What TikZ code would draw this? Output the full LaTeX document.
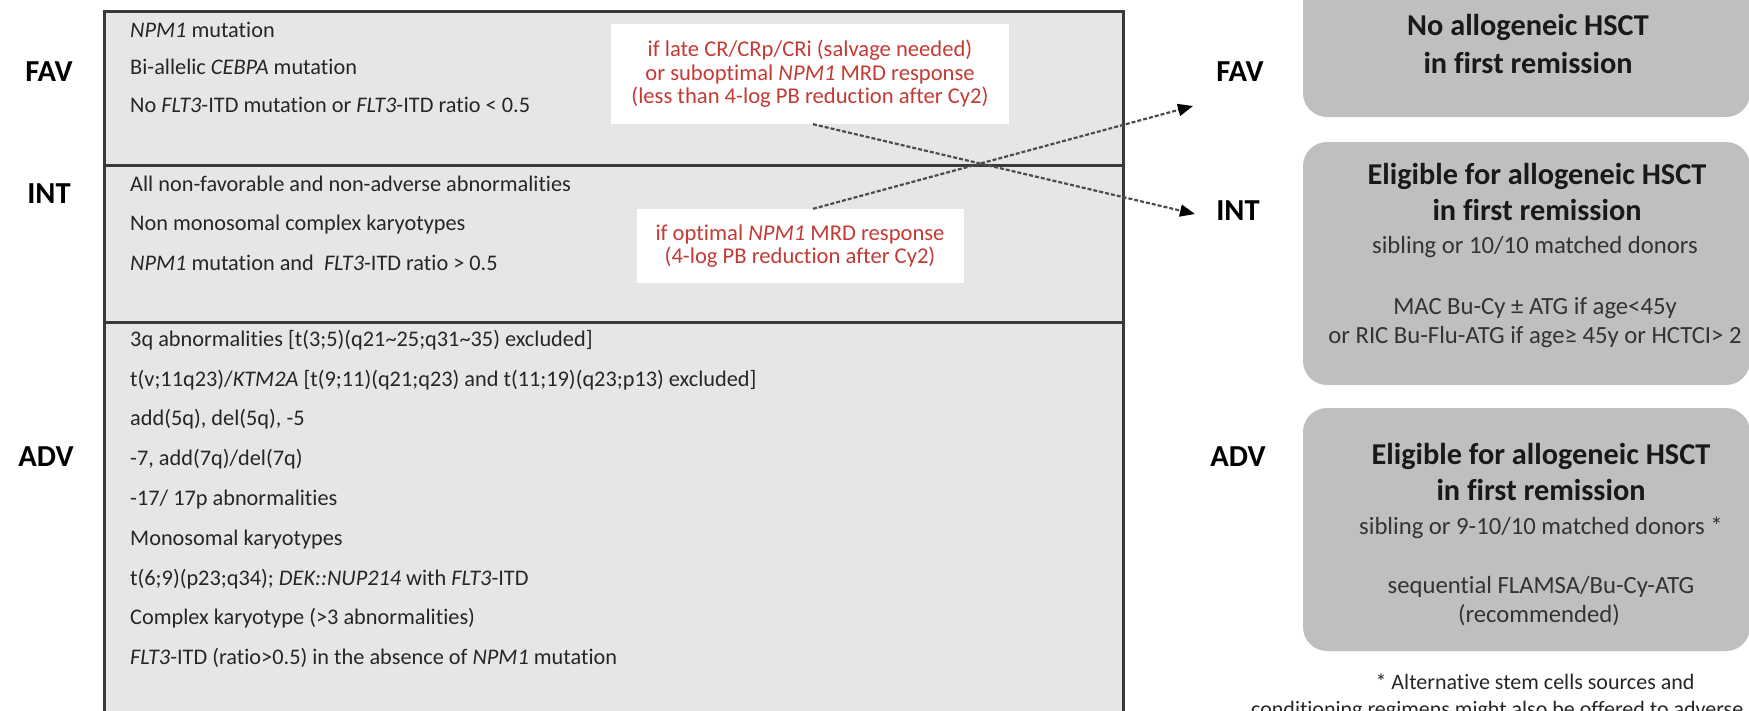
\documentclass[tikz,border=0pt]{standalone}
\usepackage{fontspec}
\setmainfont{Carlito}[Ligatures=NoCommon]
\usetikzlibrary{arrows.meta,positioning}

\definecolor{rowgray}{RGB}{230,230,230}
\definecolor{allogray}{RGB}{191,191,191}
\definecolor{edgegray}{RGB}{58,58,58}
\definecolor{mrdred}{RGB}{196,58,52}

\tikzset{
  riskrow/.style={draw=edgegray, line width=2.5pt, fill=rowgray, anchor=north west, inner sep=0pt, minimum width=1019pt},
  rowtext/.style={anchor=mid west, inner sep=0pt, text=black!85, font=\fontsize{22.3}{26}\selectfont},
  risklabel/.style={anchor=mid, inner sep=0pt, font=\fontsize{30.5}{36}\selectfont\bfseries},
  mrdbox/.style={fill=white, inner sep=0pt, align=center, text=mrdred, font=\fontsize{22.6}{23.5}\selectfont},
  allobox/.style={fill=allogray, rounded corners=24pt, minimum width=447pt, inner sep=0pt},
  allohead/.style={anchor=mid, inner sep=0pt, text=black!90, font=\fontsize{30.3}{36}\selectfont\bfseries},
  allonote/.style={anchor=mid, inner sep=0pt, text=black!80, font=\fontsize{24.7}{29}\selectfont},
  mrdarrow/.style={draw=black!70, line width=2.2pt, dash pattern=on 4pt off 2pt, -{Triangle[length=15pt,width=12pt,color=black]}}
}

\begin{document}
\begin{tikzpicture}[x=1pt, y=-1pt]

    \newcommand*{\xMin}{0}%
    \newcommand*{\xMax}{1749}%
    \newcommand*{\yMin}{0}%
    \newcommand*{\yMax}{710}%
    \def\rowL {103};
    \def\rowT {10};
    \def\rowFI {164};
    \def\rowIA {321};
    \def\rowB {740};
    \def\txtx {130};

    \useasboundingbox (\xMin,\yMin) rectangle (\xMax,\yMax);
    \clip (\xMin,\yMin) rectangle (\xMax,\yMax);

    % left table
    \pgfmathsetmacro\hfav{\rowFI-\rowT}
    \pgfmathsetmacro\hint{\rowIA-\rowFI}
    \pgfmathsetmacro\hadv{\rowB-\rowIA}
    \node[riskrow, minimum height=\hfav pt] (favrow) at (\rowL,\rowT) {};
    \node[riskrow, minimum height=\hint pt] (introw) at (\rowL,\rowFI) {};
    \node[riskrow, minimum height=\hadv pt] (advrow) at (\rowL,\rowIA) {};

    \node[risklabel] (favL) at (49,79) {FAV};
    \node[risklabel] (intL) at (49,201) {INT};
    \node[risklabel] (advL) at (46,464) {ADV};

    \foreach \txt [count=\k from 0] in {{\textit{NPM1} mutation},
      {Bi-allelic \textit{CEBPA} mutation},
      {No \textit{FLT3}-ITD mutation or \textit{FLT3}-ITD ratio < 0.5}} {
      \node[rowtext] (fav\k) at (\txtx, 35+37.5*\k) {\txt};
    }
    \foreach \txt [count=\k from 0] in {{All non-favorable and non-adverse abnormalities},
      {Non monosomal complex karyotypes},
      {\textit{NPM1} mutation and \ \textit{FLT3}-ITD ratio > 0.5}} {
      \node[rowtext] (int\k) at (\txtx, 189+39.5*\k) {\txt};
    }
    \foreach \txt [count=\k from 0] in {{3q abnormalities [t(3;5)(q21\textasciitilde 25;q31\textasciitilde 35) excluded]},
      {t(v;11q23)/\textit{KTM2A} [t(9;11)(q21;q23) and t(11;19)(q23;p13) excluded]},
      {add(5q), del(5q), -5},
      {-7, add(7q)/del(7q)},
      {-17/ 17p abnormalities},
      {Monosomal karyotypes},
      {t(6;9)(p23;q34); \textit{DEK::NUP214} with \textit{FLT3}-ITD},
      {Complex karyotype (>3 abnormalities)},
      {\textit{FLT3}-ITD (ratio>0.5) in the absence of \textit{NPM1} mutation}} {
      \node[rowtext] (adv\k) at (\txtx, 344+39.8*\k) {\txt};
    }

    % MRD boxes
    \node[mrdbox, minimum width=398pt, minimum height=100pt] (lateCR) at (810,74)
      {if late CR/CRp/CRi (salvage needed)\\or suboptimal \textit{NPM1} MRD response\\(less than 4-log PB reduction after Cy2)};
    \node[mrdbox, minimum width=327pt, minimum height=74pt] (optMRD) at (800,246)
      {if optimal \textit{NPM1} MRD response\\(4-log PB reduction after Cy2)};

    % right side
    \node[risklabel] (favR) at (1240,79) {FAV};
    \node[risklabel] (intR) at (1238,218) {INT};
    \node[risklabel] (advR) at (1238,464) {ADV};

    \coordinate (favTip) at (1193,106);
    \coordinate (intTip) at (1195,214);
    \draw[mrdarrow] ([xshift=3pt]lateCR.south) -- (intTip);
    \draw[mrdarrow] ([xshift=13pt]optMRD.north) -- (favTip);

    \node[allobox, minimum height=147pt] (noAllo) at (1526.5,43.5) {};
    \node[allobox, minimum height=243pt] (intAllo) at (1526.5,263.5) {};
    \node[allobox, minimum height=243pt] (advAllo) at (1526.5,529.5) {};

    \node[allohead] (noAlloA) at (1528,33) {No allogeneic HSCT};
    \node[allohead] (noAlloB) at (1528,71) {in first remission};

    \node[allohead] (intAlloA) at (1537,182) {Eligible for allogeneic HSCT};
    \node[allohead] (intAlloB) at (1537,218) {in first remission};
    \node[allonote] (intAlloC) at (1535,251) {sibling or 10/10 matched donors};
    \node[allonote] (intAlloD) at (1535,312) {MAC Bu-Cy ± ATG if age<45y};
    \node[allonote] (intAlloE) at (1535,341) {or RIC Bu-Flu-ATG if age≥ 45y or HCTCI> 2};

    \node[allohead] (advAlloA) at (1541,462) {Eligible for allogeneic HSCT};
    \node[allohead] (advAlloB) at (1541,498) {in first remission};
    \node[allonote] (advAlloC) at (1541,532) {sibling or 9-10/10 matched donors *};
    \node[allonote] (advAlloD) at (1541,591) {sequential FLAMSA/Bu-Cy-ATG};
    \node[allonote] (advAlloE) at (1539,620) {(recommended)};

    \node[rowtext, anchor=mid, font=\fontsize{22}{26}\selectfont] (altNote) at (1535,687) {* Alternative stem cells sources and};
    \node[rowtext, font=\fontsize{22}{26}\selectfont] (altNoteB) at (1251,714) {conditioning regimens might also be offered to adverse};
\end{tikzpicture}
\end{document}
